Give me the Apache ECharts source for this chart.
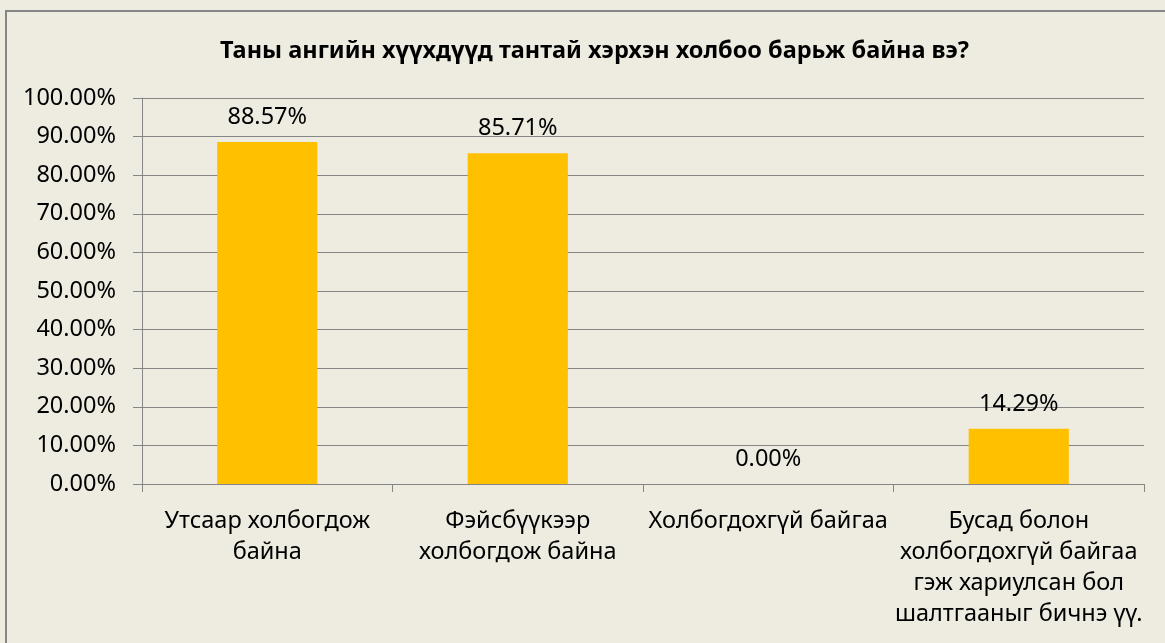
<!DOCTYPE html>
<html>
<head>
<meta charset="utf-8">
<script src="https://cdn.jsdelivr.net/npm/echarts@6/dist/echarts.min.js"></script>
<style>
html,body{margin:0;padding:0;background:#EEECE1;}
#c{width:1165px;height:643px;}
</style>
</head>
<body>
<div id="c"></div>
<script>
const titleText = 'Таны ангийн хүүхдүүд тантай хэрхэн холбоо барьж байна вэ?';
const categories = [
  'Утсаар холбогдож\nбайна',
  'Фэйсбүүкээр\nхолбогдож байна',
  'Холбогдохгүй байгаа',
  'Бусад болон\nхолбогдохгүй байгаа\nгэж хариулсан бол\nшалтгааныг бичнэ үү.'
];
const values = [0.8857, 0.8571, 0.0, 0.1429];

const FONT = '"Noto Sans", sans-serif';
const FS = 23.5;
const chart = echarts.init(document.getElementById('c'));
chart.setOption({
  backgroundColor: '#EEECE1',
  animation: false,
  title: {
    text: titleText,
    left: 215,
    top: 34,
    textStyle: {fontFamily: FONT, fontWeight: 'bold', fontSize: 23.5, color: '#000'}
  },
  graphic: [{
    type: 'rect',
    shape: {x: 6, y: 11, width: 1200, height: 700},
    style: {fill: 'none', stroke: '#868686', lineWidth: 2},
    silent: true
  }],
  grid: {left: 142, right: 21, top: 98, bottom: 159, containLabel: false},
  xAxis: {
    type: 'category',
    data: categories,
    axisLine: {show: true, lineStyle: {color: '#868686', width: 1}},
    axisTick: {show: true, length: 8, lineStyle: {color: '#868686'}},
    axisLabel: {
      interval: 0,
      margin: 22,
      fontFamily: FONT,
      fontSize: FS,
      lineHeight: 31,
      color: '#000',
      align: 'center',
      verticalAlign: 'top'
    }
  },
  yAxis: {
    type: 'value',
    min: 0,
    max: 1,
    interval: 0.1,
    axisLine: {show: true, lineStyle: {color: '#868686', width: 1}},
    axisTick: {show: true, length: 9, lineStyle: {color: '#868686'}},
    splitLine: {show: true, lineStyle: {color: '#868686', width: 1}},
    axisLabel: {
      margin: 26,
      fontFamily: FONT,
      fontSize: FS,
      color: '#000',
      formatter: v => (v * 100).toFixed(2) + '%'
    }
  },
  series: [{
    type: 'bar',
    data: values,
    barWidth: '40%',
    itemStyle: {color: '#FFC000'},
    label: {
      show: true,
      position: 'top',
      distance: 13,
      fontFamily: FONT,
      fontSize: FS,
      color: '#000',
      formatter: p => (p.value * 100).toFixed(2) + '%'
    }
  }]
});
</script>
</body>
</html>
